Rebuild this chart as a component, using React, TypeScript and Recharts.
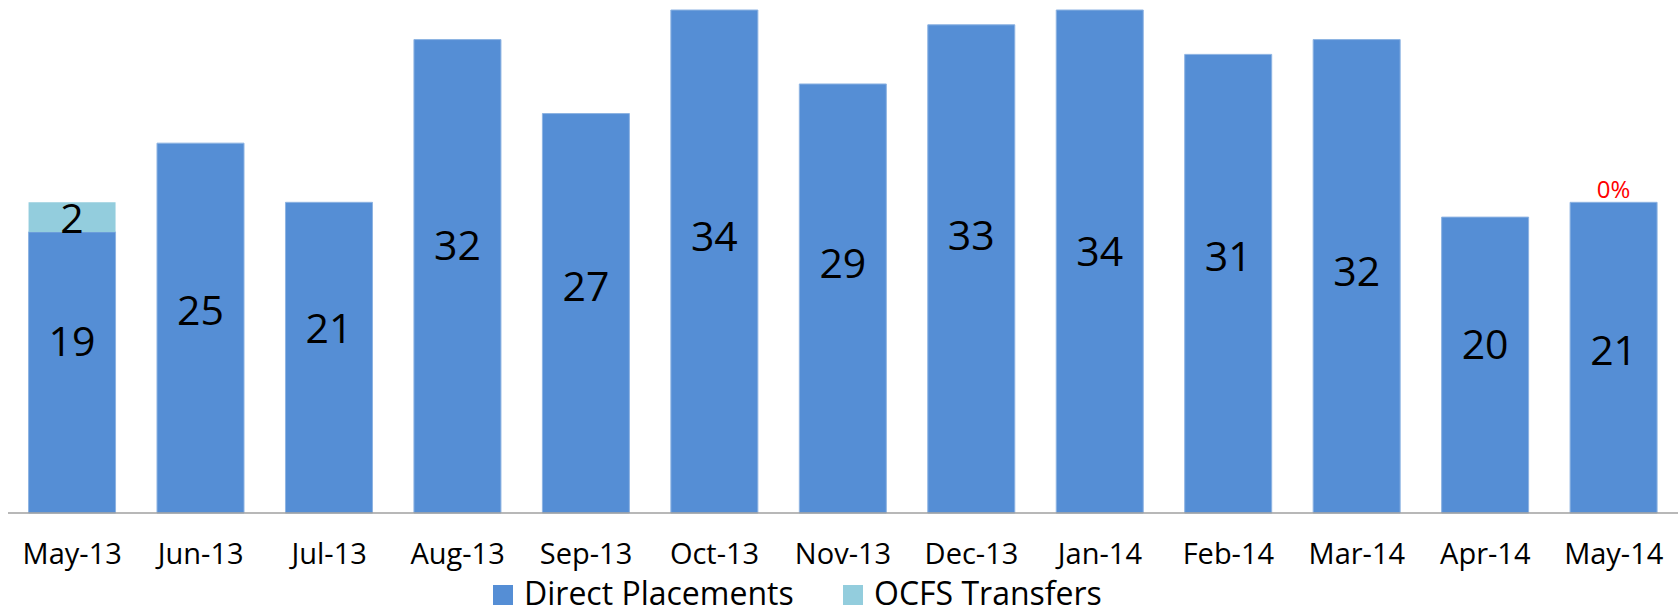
import { BarChart, Bar, XAxis, YAxis, Legend, LabelList } from "recharts";

const months = [
  "May-13", "Jun-13", "Jul-13", "Aug-13", "Sep-13", "Oct-13", "Nov-13",
  "Dec-13", "Jan-14", "Feb-14", "Mar-14", "Apr-14", "May-14",
];
const directPlacements = [19, 25, 21, 32, 27, 34, 29, 33, 34, 31, 32, 20, 21];
const ocfsTransfers = [2, 0, 0, 0, 0, 0, 0, 0, 0, 0, 0, 0, 0];
const ocfsLabels = ["2", "", "", "", "", "", "", "", "", "", "", "", "0%"];

// the labels were dragged by hand in the original, so nudge them a bit
const directLabelNudge = [-32, -19, -31, -32, -28, -27, -36, -35, -12, -29, -6, -22, -9];

const data = months.map((m, i) => ({
  month: m,
  direct: directPlacements[i],
  ocfs: ocfsTransfers[i],
}));

const FONT = "'Open Sans', Lato, sans-serif";
const BLUE = "#558ed5";
const LIGHT = "#93cddd";

function DirectLabel(props: any) {
  const { x, y, width, height, index, value } = props;
  const cx = x + width / 2;
  // an empty OCFS segment still gets its (red) label, just above the stack
  const redText = ocfsTransfers[index] === 0 ? ocfsLabels[index] : "";
  return (
    <g>
      <text
        x={cx}
        y={y + height / 2 + directLabelNudge[index]}
        textAnchor="middle"
        dominantBaseline="central"
        fill="#000"
        fontSize={41}
        fontFamily={FONT}
      >
        {value}
      </text>
      {redText && (
        <text x={cx} y={y - 4} textAnchor="middle" fill="#ff0000" fontSize={24} fontFamily={FONT}>
          {redText}
        </text>
      )}
    </g>
  );
}

function OcfsLabel(props: any) {
  const { x, y, width, height, index } = props;
  const text = ocfsLabels[index];
  if (!text || !(height > 0)) return null;
  return (
    <text
      x={x + width / 2}
      y={y + height / 2}
      textAnchor="middle"
      dominantBaseline="central"
      fill="#000"
      fontSize={41}
      fontFamily={FONT}
    >
      {text}
    </text>
  );
}

function LegendBox() {
  const items = [
    { name: "Direct Placements", color: BLUE, left: 485 },
    { name: "OCFS Transfers", color: LIGHT, left: 835 },
  ];
  return (
    <div style={{ position: "relative", height: 38, fontFamily: FONT, fontSize: 32 }}>
      {items.map((it) => (
        <div
          key={it.name}
          style={{
            position: "absolute",
            left: it.left,
            top: 0,
            height: 38,
            display: "flex",
            alignItems: "center",
            whiteSpace: "nowrap",
            color: "#000",
          }}
        >
          <span style={{ width: 20, height: 20, background: it.color, marginRight: 11, marginTop: 6 }} />
          <span>{it.name}</span>
        </div>
      ))}
    </div>
  );
}

export default function App() {
  return (
    <div style={{ position: "absolute", left: 0, top: 0, width: 1678, height: 611, background: "#fff" }}>
      <BarChart
        width={1678}
        height={611}
        data={data}
        margin={{ top: 10, right: 0, left: 8, bottom: 0 }}
        barCategoryGap="16%"
      >
        <XAxis
          dataKey="month"
          height={60}
          interval={0}
          tickLine={false}
          tickSize={6}
          tickMargin={24}
          axisLine={{ stroke: "#a0a0a0", strokeWidth: 1.5 }}
          tick={{ fill: "#000", fontSize: 29, fontFamily: FONT }}
        />
        <YAxis hide domain={[0, 34]} />
        <Legend verticalAlign="bottom" height={38} content={() => <LegendBox />} />
        <Bar
          dataKey="direct"
          stackId="a"
          fill={BLUE}
          stroke="#8db3e2"
          strokeWidth={1}
          isAnimationActive={false}
        >
          <LabelList dataKey="direct" content={DirectLabel} />
        </Bar>
        <Bar
          dataKey="ocfs"
          stackId="a"
          fill={LIGHT}
          isAnimationActive={false}
        >
          <LabelList dataKey="ocfs" content={OcfsLabel} />
        </Bar>
      </BarChart>
    </div>
  );
}
